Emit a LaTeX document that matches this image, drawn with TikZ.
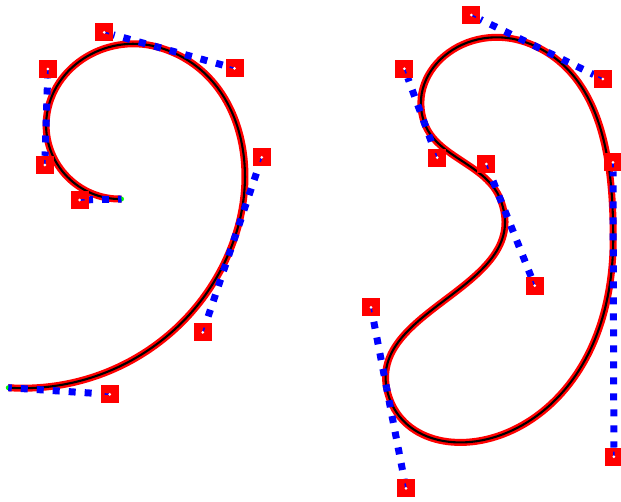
\documentclass[tikz,border=0pt]{standalone}
\usepackage{tikz}
\usetikzlibrary{calc,backgrounds}

\begin{document}
\begin{tikzpicture}[x=1pt, y=-1pt,
    ctrl/.style={rectangle, fill=red, minimum size=18pt, inner sep=0pt},
    handle/.style={blue, line width=7pt, dash pattern=on 7pt off 9pt, dash phase=3.5pt},
    stub/.style={blue, line width=1.6pt},
    spline/.style={black, line width=2.1pt, line join=round,
        preaction={draw, red, line width=7pt}},
    knot/.style={fill=green}
]
    \useasboundingbox (0,0) rectangle (621,501);

    % left curve (open)
    \node[ctrl] (p1) at (109.7,394.3) {};
    \node[ctrl] (p2) at (202.8,332.3) {};
    \node[ctrl] (p3) at (261.8,157.3) {};
    \node[ctrl] (p4) at (234.5,68.3) {};
    \node[ctrl] (p5) at (104.2,32.3) {};
    \node[ctrl] (p6) at (47.9,69) {};
    \node[ctrl] (p7) at (44.8,165) {};
    \node[ctrl] (p8) at (79.6,200) {};
    \coordinate (s) at (8.3,387.7);
    \coordinate (e) at (121.5,199);
    \coordinate (j1) at ($(p2.center)!0.543!(p3.center)$);
    \coordinate (j2) at ($(p4.center)!0.59!(p5.center)$);
    \coordinate (j3) at ($(p6.center)!0.5625!(p7.center)$);

    % right curve (closed)
    \node[ctrl] (q1) at (406,488.3) {};
    \node[ctrl] (q2) at (613.9,456.7) {};
    \node[ctrl] (q3) at (613,162.3) {};
    \node[ctrl] (q4) at (602.8,79) {};
    \node[ctrl] (q5) at (471.3,15) {};
    \node[ctrl] (q6) at (404.4,68.7) {};
    \node[ctrl] (q7) at (437.2,157.7) {};
    \node[ctrl] (q8) at (486.3,164) {};
    \node[ctrl] (q9) at (534.7,285.7) {};
    \node[ctrl] (q10) at (371,307.3) {};
    \coordinate (k1) at ($(q10.center)!0.446!(q1.center)$);
    \coordinate (k2) at ($(q2.center)!0.747!(q3.center)$);
    \coordinate (k3) at ($(q4.center)!0.503!(q5.center)$);
    \coordinate (k4) at ($(q6.center)!0.613!(q7.center)$);
    \coordinate (k5) at ($(q8.center)!0.288!(q9.center)$);

    \begin{scope}[on background layer]
        \draw[spline] (s) .. controls (p1.center) and (p2.center) .. (j1)
            .. controls (p3.center) and (p4.center) .. (j2)
            .. controls (p5.center) and (p6.center) .. (j3)
            .. controls (p7.center) and (p8.center) .. (e);
        \draw[spline] (k1) .. controls (q1.center) and (q2.center) .. (k2)
            .. controls (q3.center) and (q4.center) .. (k3)
            .. controls (q5.center) and (q6.center) .. (k4)
            .. controls (q7.center) and (q8.center) .. (k5)
            .. controls (q9.center) and (q10.center) .. (k1) -- cycle;

        \foreach \k in {s,e,j1,j2,j3,k1,k2,k3,k4,k5}
            \fill[knot] (\k) circle (2.5pt);

        \foreach \c/\j in {p1/s, p2/j1, p3/j1, p4/j2, p5/j2, p6/j3, p7/j3, p8/e,
                q10/k1, q1/k1, q2/k2, q3/k2, q4/k3, q5/k3, q6/k4, q7/k4, q8/k5, q9/k5}
            \draw[handle] (\j) -- (\c);
    \end{scope}

    % short stub and white dot on each control point
    \foreach \c/\j in {p1/s, p2/j1, p3/j1, p4/j2, p5/j2, p6/j3, p7/j3, p8/e,
            q10/k1, q1/k1, q2/k2, q3/k2, q4/k3, q5/k3, q6/k4, q7/k4, q8/k5, q9/k5} {
        \draw[stub] (\c.center) -- ($(\c.center)!5pt!(\j)$);
        \fill[white] (\c) circle (1.5pt);
    }
\end{tikzpicture}
\end{document}
